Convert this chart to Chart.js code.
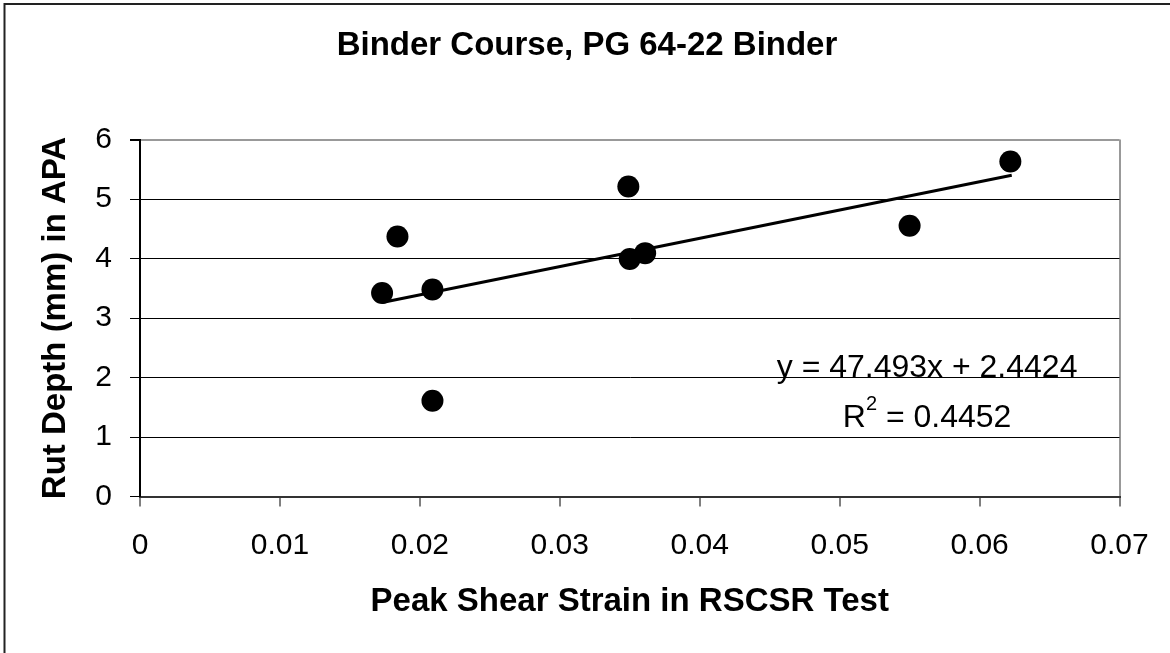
<!DOCTYPE html>
<html>
<head>
<meta charset="utf-8">
<script src="https://cdn.jsdelivr.net/npm/chart.js@4"></script>
<style>
  html, body { margin: 0; padding: 0; background: #fff; }
  #wrap { width: 1170px; height: 653px; }
</style>
</head>
<body>
<div id="wrap"><canvas id="rutChart"></canvas></div>
<script>
// values
const strain = [0.0173, 0.0184, 0.0209, 0.0209, 0.0349, 0.0350, 0.0361, 0.0550, 0.0622];
const rutDepth = [3.42, 4.37, 3.48, 1.61, 5.21, 3.99, 4.09, 4.55, 5.63];
const trendX = [0.0173, 0.0623];
const trendY = [3.26, 5.40];
const equationText = 'y = 47.493x + 2.4424';
const rSquaredText = '0.4452';

const fontFamily = '"Liberation Sans", Arial, sans-serif';

// excel-ish frame + trendline label
const extrasPlugin = {
    id: 'extras',
    beforeDraw(chart) {
        const ctx = chart.ctx;
        ctx.save();
        ctx.fillStyle = '#fff';
        ctx.fillRect(0, 0, chart.width, chart.height);
        ctx.strokeStyle = '#222';
        ctx.lineWidth = 2;
        ctx.beginPath();
        ctx.moveTo(4.5, chart.height);
        ctx.lineTo(4.5, 4);
        ctx.lineTo(chart.width, 4);
        ctx.stroke();
        ctx.restore();
    },
    afterDatasetsDraw(chart) {
        const ctx = chart.ctx;
        const xs = chart.scales.x;
        const ys = chart.scales.y;
        const cx = xs.getPixelForValue(0.05625);
        ctx.save();
        ctx.fillStyle = '#000';
        ctx.textBaseline = 'middle';
        ctx.textAlign = 'center';
        ctx.font = '32px ' + fontFamily;
        ctx.fillText(equationText, cx, ys.getPixelForValue(2.16));

        // R^2 line with superscript
        const y2 = ys.getPixelForValue(1.32);
        const rest = ' = ' + rSquaredText;
        ctx.textAlign = 'left';
        const wR = ctx.measureText('R').width;
        const wRest = ctx.measureText(rest).width;
        ctx.font = '20px ' + fontFamily;
        const wSup = ctx.measureText('2').width;
        let x0 = cx - (wR + wSup + wRest) / 2;
        ctx.font = '32px ' + fontFamily;
        ctx.fillText('R', x0, y2);
        ctx.font = '20px ' + fontFamily;
        ctx.fillText('2', x0 + wR, y2 - 13);
        ctx.font = '32px ' + fontFamily;
        ctx.fillText(rest, x0 + wR + wSup, y2);
        ctx.restore();
    }
};

const ctx = document.getElementById('rutChart');
const rutChart = new Chart(ctx, {
    type: 'scatter',
    data: {
        datasets: [
            {
                label: 'Rut depth',
                data: strain.map((x, i) => ({ x: x, y: rutDepth[i] })),
                pointRadius: 11,
                pointHoverRadius: 11,
                backgroundColor: '#000',
                borderColor: '#000',
                borderWidth: 0
            },
            {
                label: 'Linear trend',
                data: trendX.map((x, i) => ({ x: x, y: trendY[i] })),
                showLine: true,
                pointRadius: 0,
                borderColor: '#000',
                borderWidth: 3
            }
        ]
    },
    options: {
        responsive: true,
        maintainAspectRatio: false,
        animation: false,
        layout: {
            padding: { left: 4, right: 0, top: 0, bottom: 0 }
        },
        plugins: {
            legend: { display: false },
            tooltip: { enabled: false },
            title: {
                display: true,
                text: 'Binder Course, PG 64-22 Binder',
                color: '#000',
                font: { family: fontFamily, size: 33, weight: 'bold' },
                padding: { top: 26, bottom: 73.9 }
            }
        },
        scales: {
            x: {
                type: 'linear',
                min: 0,
                max: 0.07,
                afterFit(scale) {
                    scale.height = 156.5;
                    scale.paddingRight = 50.5;
                },
                ticks: {
                    stepSize: 0.01,
                    color: '#000',
                    padding: 21,
                    maxRotation: 0,
                    font: { family: fontFamily, size: 30 },
                    callback: (v) => String(Number(v.toFixed(2)))
                },
                grid: {
                    color: (c) => c.index === 7 ? '#999' : 'rgba(0,0,0,0)',
                    lineWidth: 2,
                    tickColor: '#000',
                    tickLength: 10,
                    tickWidth: 1
                },
                border: { color: '#333', width: 2 },
                title: {
                    display: true,
                    text: 'Peak Shear Strain in RSCSR Test',
                    color: '#000',
                    font: { family: fontFamily, size: 33, weight: 'bold' },
                    padding: { top: 0, bottom: 31 }
                }
            },
            y: {
                min: 0,
                max: 6,
                afterFit(scale) {
                    scale.width = 136;
                },
                ticks: {
                    stepSize: 1,
                    color: '#000',
                    padding: 18,
                    font: { family: fontFamily, size: 30 }
                },
                grid: {
                    color: (c) => c.tick.value === 6 ? '#999' : '#000',
                    lineWidth: (c) => c.tick.value === 6 ? 2 : 1,
                    tickColor: '#000',
                    tickLength: 10
                },
                border: { color: '#000', width: 2 },
                title: {
                    display: true,
                    text: 'Rut Depth (mm) in APA',
                    color: '#000',
                    font: { family: fontFamily, size: 33, weight: 'bold' },
                    padding: { top: 32, bottom: 0 }
                }
            }
        }
    },
    plugins: [extrasPlugin]
});
</script>
</body>
</html>
